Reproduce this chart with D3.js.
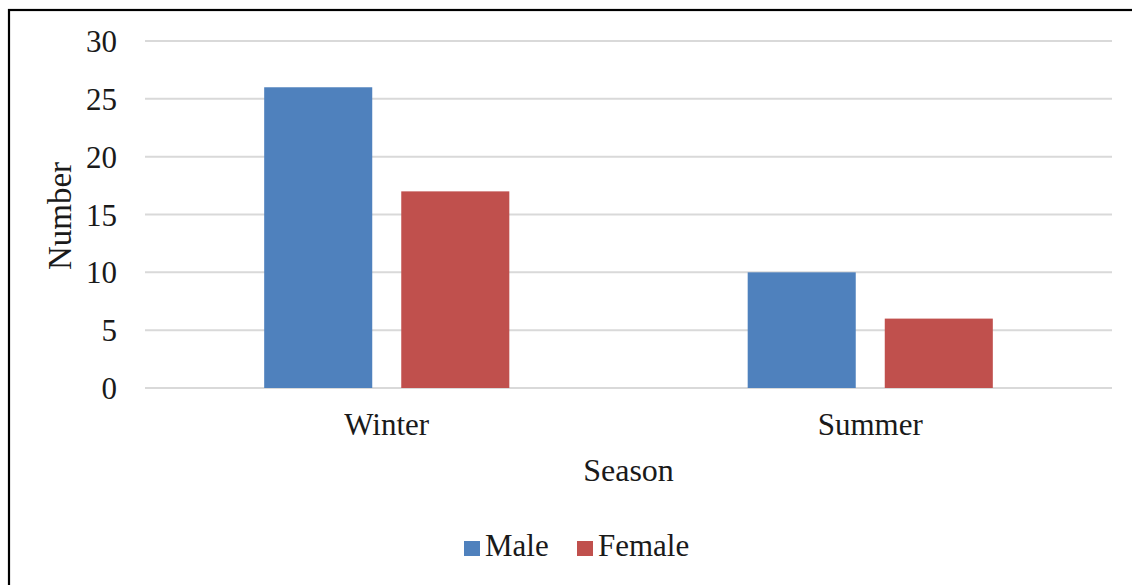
<!DOCTYPE html>
<html>
<head>
<meta charset="utf-8">
<script src="https://cdn.jsdelivr.net/npm/d3@7"></script>
<style>
  html, body { margin: 0; padding: 0; background: #fff; }
  svg { display: block; }
  text { font-family: "Liberation Serif", "Times New Roman", serif; fill: #1a1a1a; }
</style>
</head>
<body>
<script>
// Counts by season and sex
const seasons = ["Winter", "Summer"];
const seriesNames = ["Male", "Female"];
const maleValues = [26, 10];
const femaleValues = [17, 6];
const yTicks = [0, 5, 10, 15, 20, 25, 30];
const colors = ["#4f81bd", "#c0504d"];

const W = 1132, H = 585;
const svg = d3.select("body").append("svg").attr("width", W).attr("height", H);

// outer frame (top and left edges visible)
svg.append("rect")
  .attr("x", 9).attr("y", 10)
  .attr("width", W + 20).attr("height", H + 20)
  .attr("fill", "none").attr("stroke", "#000").attr("stroke-width", 2.2);

const plot = { left: 145, right: 1112, top: 41, bottom: 388 };

const y = d3.scaleLinear().domain([0, 30]).range([plot.bottom, plot.top]);
const x0 = d3.scaleBand().domain(seasons).range([plot.left, plot.right]).paddingInner(0).paddingOuter(0);
const groupW = x0.bandwidth() * 0.507;
const x1 = d3.scaleBand().domain(seriesNames)
  .range([(x0.bandwidth() - groupW) / 2, (x0.bandwidth() + groupW) / 2])
  .paddingInner(0.2117).paddingOuter(0);

// horizontal gridlines
svg.append("g").selectAll("line").data(yTicks).join("line")
  .attr("x1", plot.left).attr("x2", plot.right)
  .attr("y1", d => y(d)).attr("y2", d => y(d))
  .attr("stroke", "#d9d9d9").attr("stroke-width", 2);

// y axis labels
const yAxis = d3.axisLeft(y).tickValues(yTicks).tickSize(0).tickPadding(0);
const gy = svg.append("g").attr("transform", `translate(117,0)`).call(yAxis);
gy.select(".domain").remove();
gy.selectAll("text")
  .attr("font-family", "Liberation Serif, Times New Roman, serif")
  .attr("font-size", 31).attr("fill", "#1a1a1a").attr("dy", "0.34em");

// bars
const data = seasons.map((s, i) => ({ season: s, values: [maleValues[i], femaleValues[i]] }));
svg.append("g").selectAll("g").data(data).join("g")
  .attr("transform", d => `translate(${x0(d.season)},0)`)
  .selectAll("rect").data(d => d.values.map((v, j) => ({ name: seriesNames[j], value: v, color: colors[j] })))
  .join("rect")
  .attr("x", d => x1(d.name))
  .attr("width", x1.bandwidth())
  .attr("y", d => y(d.value))
  .attr("height", d => y(0) - y(d.value))
  .attr("fill", d => d.color);

// x axis labels
const xAxis = d3.axisBottom(x0).tickSize(0).tickPadding(0);
const gx = svg.append("g").attr("transform", `translate(0,${plot.bottom})`).call(xAxis);
gx.select(".domain").remove();
gx.selectAll("text")
  .attr("font-family", "Liberation Serif, Times New Roman, serif")
  .attr("font-size", 31).attr("fill", "#1a1a1a")
  .attr("y", 47).attr("dy", 0);

// axis titles
svg.append("text")
  .attr("x", (plot.left + plot.right) / 2).attr("y", 481)
  .attr("text-anchor", "middle").attr("font-size", 32)
  .text("Season");

svg.append("text")
  .attr("transform", "translate(71,216) rotate(-90)")
  .attr("text-anchor", "middle").attr("font-size", 33)
  .text("Number");

// legend
const legendItems = [
  { name: seriesNames[0], color: colors[0], x: 464 },
  { name: seriesNames[1], color: colors[1], x: 577 }
];
const lg = svg.append("g").selectAll("g").data(legendItems).join("g")
  .attr("transform", d => `translate(${d.x},541)`);
lg.append("rect").attr("width", 16).attr("height", 15).attr("fill", d => d.color);
lg.append("text").attr("x", 21).attr("y", 15).attr("font-size", 31).text(d => d.name);
</script>
</body>
</html>
